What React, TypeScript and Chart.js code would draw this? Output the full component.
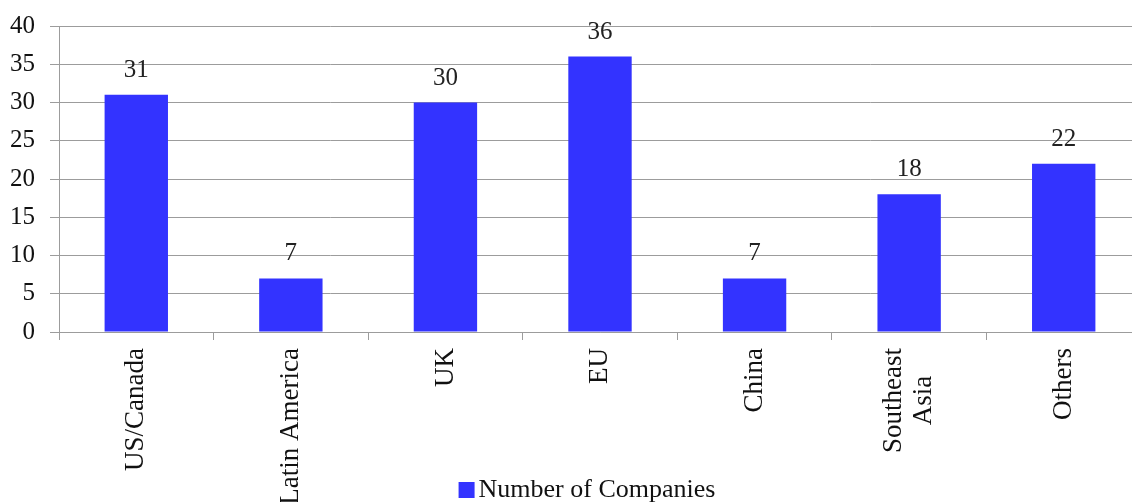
import React, { useEffect, useRef } from "react";
import { Chart, registerables } from "chart.js";

Chart.register(...registerables);

const categories: (string | string[])[] = [
  "US/Canada",
  "Latin America",
  "UK",
  "EU",
  "China",
  ["Southeast", "Asia"],
  "Others",
];
const companyCounts = [31, 7, 30, 36, 7, 18, 22];
const seriesLabel = "Number of Companies";
const yTicksMax = 40;
const yTickStep = 5;

const BAR_COLOR = "#3333ff";
const GRID_COLOR = "#9c9c9c";
const FONT = "'Liberation Serif', 'Times New Roman', serif";

const valueLabelPlugin = {
  id: "valueLabels",
  afterDatasetsDraw(chart: any) {
    const ctx = chart.ctx;
    const meta = chart.getDatasetMeta(0);
    const data = chart.data.datasets[0].data as number[];
    ctx.save();
    ctx.font = `25px ${FONT}`;
    ctx.fillStyle = "#222";
    ctx.textAlign = "center";
    ctx.textBaseline = "alphabetic";
    meta.data.forEach((bar: any, i: number) => {
      ctx.fillText(String(data[i]), bar.x, bar.y - 18);
    });
    ctx.restore();
  },
};

// Rotated category labels with centred multi-line text
const categoryLabelPlugin = {
  id: "categoryLabels",
  afterDraw(chart: any) {
    const ctx = chart.ctx;
    const xScale = chart.scales.x;
    const labels = chart.data.labels as (string | string[])[];
    const top = xScale.top + 8 + 8;
    const lineH = 30;
    ctx.save();
    ctx.font = `27px ${FONT}`;
    ctx.fillStyle = "#111";
    ctx.textAlign = "right";
    ctx.textBaseline = "middle";
    labels.forEach((lab, i) => {
      const lines = Array.isArray(lab) ? lab : [lab];
      const widths = lines.map((l) => ctx.measureText(l).width);
      const maxW = Math.max(...widths);
      const px = xScale.getPixelForTick(i);
      ctx.save();
      ctx.translate(px, top);
      ctx.rotate(-Math.PI / 2);
      lines.forEach((l, j) => {
        const off = (j - (lines.length - 1) / 2) * lineH;
        ctx.fillText(l, -(maxW - widths[j]) / 2, off);
      });
      ctx.restore();
    });
    ctx.restore();
  },
};

const bottomLegendPlugin = {
  id: "bottomLegend",
  afterDraw(chart: any) {
    const ctx = chart.ctx;
    const ds = chart.data.datasets[0];
    ctx.save();
    ctx.font = `26px ${FONT}`;
    const text = ds.label as string;
    const tw = ctx.measureText(text).width;
    const box = 16;
    const gap = 4;
    const total = box + gap + tw;
    const cx = 587;
    const x0 = cx - total / 2;
    const baseline = 497;
    ctx.fillStyle = ds.backgroundColor;
    ctx.fillRect(x0, baseline - 15, box, box);
    ctx.fillStyle = "#111";
    ctx.textAlign = "left";
    ctx.textBaseline = "alphabetic";
    ctx.fillText(text, x0 + box + gap, baseline);
    ctx.restore();
  },
};

export default function App() {
  const ref = useRef<HTMLCanvasElement>(null);
  useEffect(() => {
    if (!ref.current) return;
    Chart.defaults.font.family = FONT;
    const chart = new Chart(ref.current, {
      type: "bar",
      data: {
        labels: categories,
        datasets: [
          {
            label: seriesLabel,
            data: companyCounts,
            backgroundColor: BAR_COLOR,
            borderWidth: 0,
            barPercentage: 0.41,
            categoryPercentage: 1,
          },
        ],
      },
      options: {
        responsive: false,
        animation: false,
        layout: { padding: { top: 0, left: 0, right: 19, bottom: 0 } },
        plugins: {
          legend: { display: false },
          tooltip: { enabled: false },
        },
        scales: {
          x: {
            offset: true,
            grid: {
              display: true,
              offset: true,
              drawOnChartArea: false,
              drawTicks: true,
              tickLength: 8,
              color: GRID_COLOR,
            },
            border: { display: true, color: GRID_COLOR },
            ticks: {
              display: false,
              autoSkip: false,
            },
            afterFit(scale: any) {
              scale.height = 170;
            },
          },
          y: {
            min: 0,
            max: yTicksMax,
            ticks: {
              stepSize: yTickStep,
              padding: 15,
              color: "#111",
              font: { size: 25, family: FONT },
            },
            grid: {
              color: GRID_COLOR,
              tickLength: 9,
            },
            border: { display: true, color: GRID_COLOR },
            afterFit(scale: any) {
              scale.width = 59;
              scale.paddingTop = 26;
            },
          },
        },
      },
      plugins: [valueLabelPlugin, categoryLabelPlugin, bottomLegendPlugin],
    });
    return () => chart.destroy();
  }, []);
  return (
    <div style={{ position: "fixed", left: 0, top: 0, width: 1160, height: 502, background: "#fff" }}>
      <canvas ref={ref} width={1160} height={502} />
    </div>
  );
}
